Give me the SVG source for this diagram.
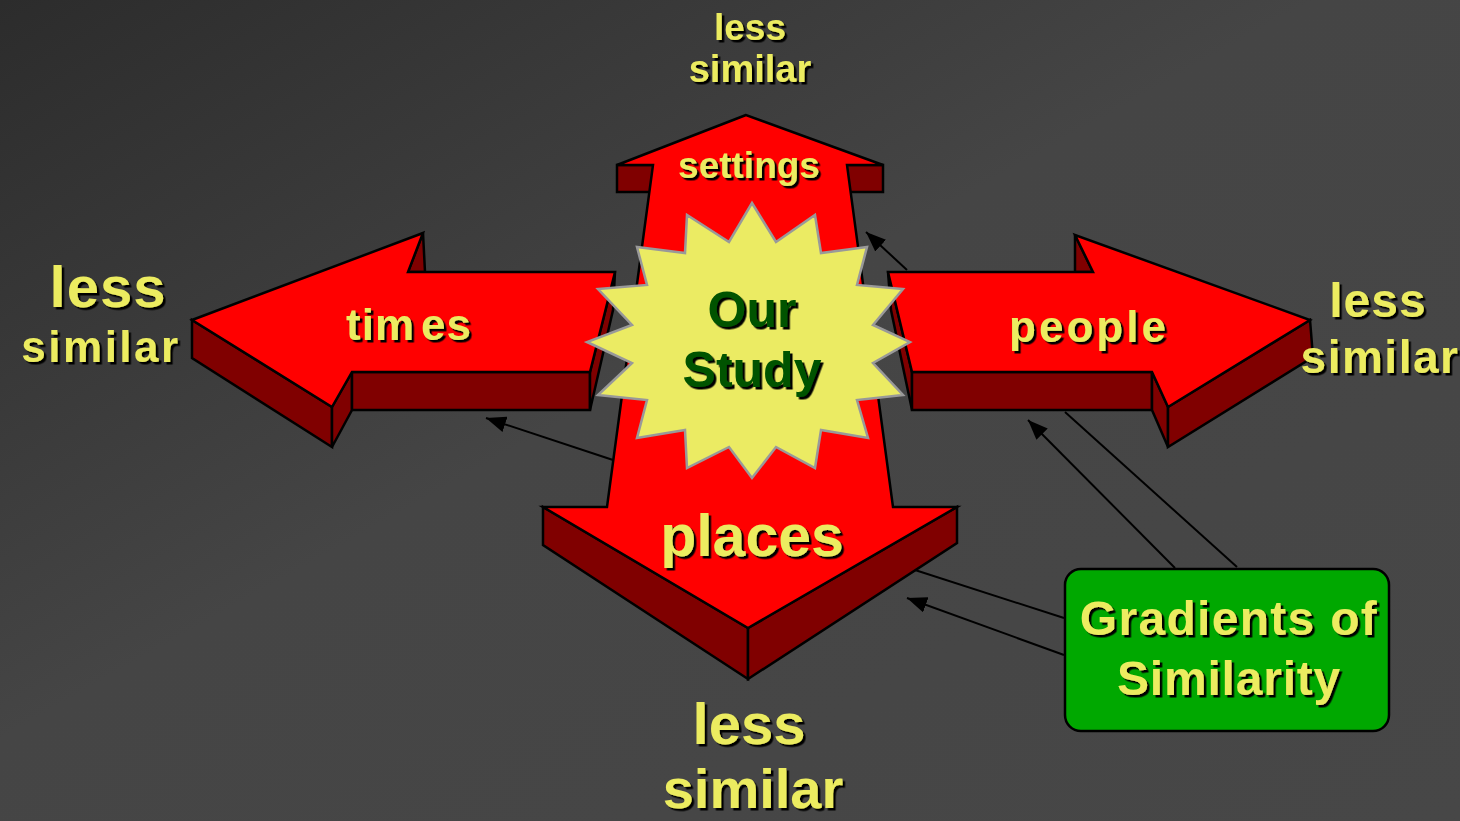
<svg xmlns="http://www.w3.org/2000/svg" width="1460" height="821" viewBox="0 0 1460 821">
<defs>
<linearGradient id="bg" x1="0" y1="0" x2="1" y2="1">
<stop offset="0" stop-color="#2c2c2c"/>
<stop offset="0.45" stop-color="#454545"/>
<stop offset="1" stop-color="#474747"/>
</linearGradient>
<filter id="sh" x="-10%" y="-10%" width="120%" height="130%">
<feDropShadow dx="2.5" dy="2.5" stdDeviation="0" flood-color="#000" flood-opacity="1"/>
</filter>
<marker id="ah" markerUnits="userSpaceOnUse" markerWidth="22" markerHeight="16" refX="20" refY="8" orient="auto">
<path d="M0,0 L20,8 L0,16 Z" fill="#000"/>
</marker>
</defs>
<style>
.top{fill:#ff0000;stroke:#000;stroke-width:2.5;stroke-linejoin:miter}
.side{fill:#800000;stroke:#000;stroke-width:2.5;stroke-linejoin:miter}
.lbl{font-family:"Liberation Sans",Arial,sans-serif;font-weight:bold;fill:#ecec60;text-anchor:middle;filter:url(#sh)}
.con{fill:none;stroke:#000;stroke-width:2}
</style>
<rect width="1460" height="821" fill="url(#bg)"/>

<g id="times-arrow">
<polygon class="side" points="192,320 332,407 332,447 192,358"/>
<polygon class="side" points="352,372 332,407 332,447 352,410"/>
<rect class="side" x="352" y="372" width="238" height="38"/>
<polygon class="side" points="615,272 613,310 590,410 590,372"/>
<polygon class="side" points="423,233 425,272 408,272"/>
<polygon class="top" points="192,320 423,233 408,272 615,272 590,372 352,372 332,407"/>
<text class="lbl" x="409" y="340" font-size="44" letter-spacing="1">tim<tspan dx="6">es</tspan></text>
</g>

<g id="people-arrow">
<polygon class="side" points="888,272 891,310 912,410 912,372"/>
<rect class="side" x="912" y="372" width="240" height="38"/>
<polygon class="side" points="1152,372 1168,407 1168,447 1152,410"/>
<polygon class="side" points="1168,407 1310,320 1313,357 1168,447"/>
<polygon class="side" points="1075,235 1075,272 1093,272"/>
<polygon class="top" points="888,272 1093,272 1075,235 1310,320 1168,407 1152,372 912,372"/>
<text class="lbl" x="1089" y="342" font-size="44" letter-spacing="3">people</text>
</g>

<g id="vertical-arrow">
<rect class="side" x="617" y="165" width="38" height="27"/>
<rect class="side" x="845" y="165" width="38" height="27"/>
<polygon class="side" points="543,507 748,628 748,679 543,545"/>
<polygon class="side" points="748,628 957,507 957,543 748,679"/>
<polygon class="top" points="746,115 617,165 653,165 607,507 543,507 748,628 957,507 893,507 847,165 883,165"/>
<text class="lbl" x="749" y="178" font-size="37">settings</text>
<text class="lbl" x="752" y="556" font-size="59">places</text>
</g>

<g id="connectors">
<line class="con" x1="613" y1="460" x2="486" y2="418" marker-end="url(#ah)"/>
<line class="con" x1="907" y1="270" x2="866" y2="232" marker-end="url(#ah)"/>
<line class="con" x1="1175" y1="568" x2="1028" y2="420" marker-end="url(#ah)"/>
<line class="con" x1="1237" y1="567" x2="1065" y2="412"/>
<line class="con" x1="1064" y1="618" x2="915" y2="570"/>
<line class="con" x1="1064" y1="655" x2="907" y2="598" marker-end="url(#ah)"/>
</g>

<g id="our-study">
<polygon fill="#ebeb63" stroke="#999999" stroke-width="2.5" points="752,203 776,242 815,215 821,253 867,247 857,285 903,289 873,325 910,342 873,363 903,395 857,400 868,438 821,430 815,468 776,447 752,478 729,447 687,468 685,430 637,438 647,400 598,395 632,363 587,342 632,325 598,289 647,285 637,247 685,253 687,215 729,242"/>
<text class="lbl" x="752" y="327" font-size="50" style="fill:#005200">Our</text>
<text class="lbl" x="752" y="387" font-size="50" style="fill:#005200">Study</text>
</g>

<g id="gradients-box">
<rect x="1065" y="569" width="324" height="162" rx="16" ry="16" fill="#00a800" stroke="#000" stroke-width="2.5"/>
<text class="lbl" x="1229" y="635" font-size="48" letter-spacing="1.3">Gradients of</text>
<text class="lbl" x="1229" y="695" font-size="48" letter-spacing="0.8">Similarity</text>
</g>

<g id="label-left">
<text class="lbl" x="108" y="307" font-size="58" letter-spacing="1">less</text>
<text class="lbl" x="101" y="362" font-size="44" letter-spacing="2.5">similar</text>
</g>
<g id="label-right">
<text class="lbl" x="1378" y="317" font-size="48" letter-spacing="1">less</text>
<text class="lbl" x="1380" y="373" font-size="46" letter-spacing="1.5">similar</text>
</g>
<g id="label-top">
<text class="lbl" x="750" y="40" font-size="37">less</text>
<text class="lbl" x="750" y="82" font-size="38">similar</text>
</g>
<g id="label-bottom">
<text class="lbl" x="749" y="744" font-size="58">less</text>
<text class="lbl" x="753" y="808" font-size="56">similar</text>
</g>
</svg>
